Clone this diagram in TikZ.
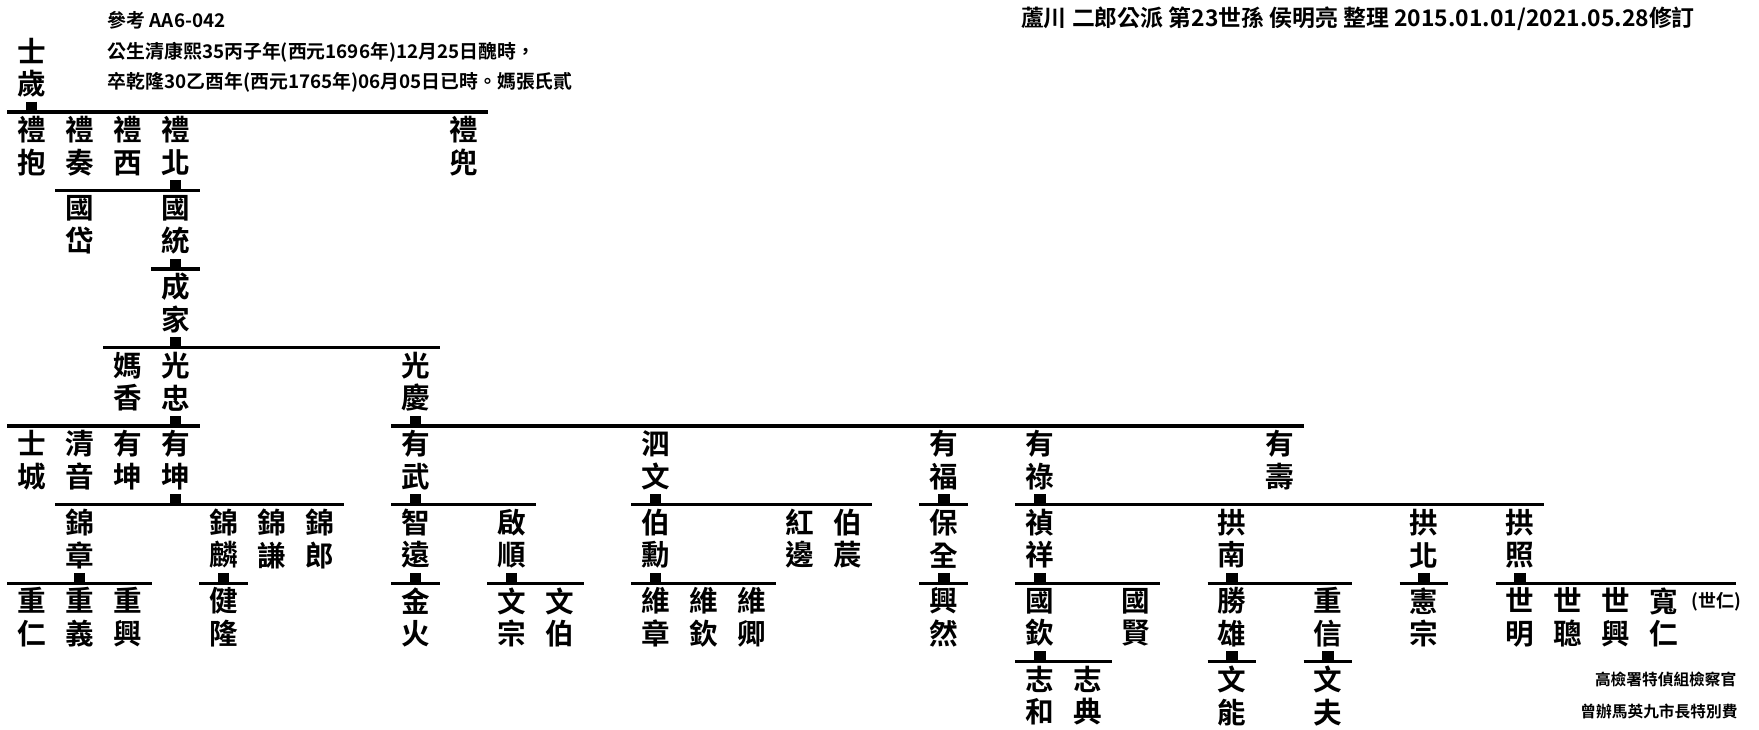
\documentclass[tikz,border=0pt]{standalone}
\usepackage{fontspec}
\setmainfont{Noto Sans CJK TC}[BoldFont={Noto Sans CJK TC Bold}]
\usepackage{tikz}
\tikzset{
    person/.style={rectangle, minimum width=42.8pt, minimum height=60.5pt, inner sep=0pt, align=center, font=\bfseries\fontsize{25.5}{29}\selectfont},
    bar/.style={line width=2.8pt},
    knot/.style={line width=10.4pt},
    heading/.style={anchor=west, inner sep=0pt, font=\bfseries\fontsize{16.8}{20}\selectfont},
    caption/.style={anchor=west, inner sep=0pt, font=\bfseries\fontsize{20.4}{24}\selectfont},
    remark/.style={anchor=east, inner sep=0pt, font=\bfseries\fontsize{14}{17}\selectfont},
    aside/.style={inner sep=0pt, font=\bfseries\fontsize{16}{19}\selectfont}
}

\begin{document}
\begin{tikzpicture}[x=1pt, y=-1pt]
    \path [use as bounding box, fill=white] (0,0) rectangle (1568,650);

    \node [caption] (title) at (910,17) {蘆川 二郎公派 第23世孫 侯明亮 整理 2015.01.01/2021.05.28修訂};
    \node [heading] (ref) at (96,18) {參考 AA6-042};
    \node [heading] (born) at (96,47) {公生清康熙35丙子年(西元1696年)12月25日醜時，};
    \node [heading] (died) at (96,73) {卒乾隆30乙酉年(西元1765年)06月05日已時。媽張氏貳};
    \node [remark] (office) at (1548,606) {高檢署特偵組檢察官};
    \node [remark] (case) at (1549,634) {曾辦馬英九市長特別費};

    \begin{scope}[shift={(28,60.25)}, x=42.8pt, y=-70pt]
    \node [person] (shisui) at (0,0) {士\\歲};

    \node [person] (libao) at (0,1) {禮\\抱};
    \node [person] (lizou) at (1,1) {禮\\奏};
    \node [person] (lixi) at (2,1) {禮\\西};
    \node [person] (libei) at (3,1) {禮\\北};
    \node [person] (lidou) at (9,1) {禮\\兜};

    \node [person] (guodai) at (1,2) {國\\岱};
    \node [person] (guotong) at (3,2) {國\\統};

    \node [person] (chengjia) at (3,3) {成\\家};

    \node [person] (maxiang) at (2,4) {媽\\香};
    \node [person] (guangzhong) at (3,4) {光\\忠};
    \node [person] (guangqing) at (8,4) {光\\慶};

    \node [person] (shicheng) at (0,5) {士\\城};
    \node [person] (qingyin) at (1,5) {清\\音};
    \node [person] (youkunA) at (2,5) {有\\坤};
    \node [person] (youkunB) at (3,5) {有\\坤};
    \node [person] (youwu) at (8,5) {有\\武};
    \node [person] (siwen) at (13,5) {泗\\文};
    \node [person] (youfu) at (19,5) {有\\福};
    \node [person] (youlu) at (21,5) {有\\祿};
    \node [person] (youshou) at (26,5) {有\\壽};

    \node [person] (jinzhang) at (1,6) {錦\\章};
    \node [person] (jinlin) at (4,6) {錦\\麟};
    \node [person] (jinqian) at (5,6) {錦\\謙};
    \node [person] (jinlang) at (6,6) {錦\\郎};
    \node [person] (zhiyuan) at (8,6) {智\\遠};
    \node [person] (qishun) at (10,6) {啟\\順};
    \node [person] (boxun) at (13,6) {伯\\勳};
    \node [person] (hongbian) at (16,6) {紅\\邊};
    \node [person] (bochen) at (17,6) {伯\\莀};
    \node [person] (baoquan) at (19,6) {保\\全};
    \node [person] (zhenxiang) at (21,6) {禎\\祥};
    \node [person] (gongnan) at (25,6) {拱\\南};
    \node [person] (gongbei) at (29,6) {拱\\北};
    \node [person] (gongzhao) at (31,6) {拱\\照};

    \node [person] (chongren) at (0,7) {重\\仁};
    \node [person] (chongyi) at (1,7) {重\\義};
    \node [person] (chongxing) at (2,7) {重\\興};
    \node [person] (jianlong) at (4,7) {健\\隆};
    \node [person] (jinhuo) at (8,7) {金\\火};
    \node [person] (wenzong) at (10,7) {文\\宗};
    \node [person] (wenbo) at (11,7) {文\\伯};
    \node [person] (weizhang) at (13,7) {維\\章};
    \node [person] (weiqin) at (14,7) {維\\欽};
    \node [person] (weiqing) at (15,7) {維\\卿};
    \node [person] (xingran) at (19,7) {興\\然};
    \node [person] (guoqin) at (21,7) {國\\欽};
    \node [person] (guoxian) at (23,7) {國\\賢};
    \node [person] (shengxiong) at (25,7) {勝\\雄};
    \node [person] (chongxin) at (27,7) {重\\信};
    \node [person] (xianzong) at (29,7) {憲\\宗};
    \node [person] (shiming) at (31,7) {世\\明};
    \node [person] (shicong) at (32,7) {世\\聰};
    \node [person] (shixing) at (33,7) {世\\興};
    \node [person] (kuanren) at (34,7) {寬\\仁};
    \node [aside] (shiren) at (35.1,6.8) {(世仁)};
    \coordinate (zhaoEnd) at ([xshift=17pt]shiren.center |- shiming.north);

    \node [person] (zhihe) at (21,8) {志\\和};
    \node [person] (zhidian) at (22,8) {志\\典};
    \node [person] (wenneng) at (25,8) {文\\能};
    \node [person] (wenfu) at (27,8) {文\\夫};

    \draw [bar] (libao.north west) -- (lidou.north east);
    \draw [knot] (shisui.south) -- (shisui.south |- libao.north);
    \draw [bar] (guodai.north west) -- (guotong.north east);
    \draw [knot] (libei.south) -- (libei.south |- guotong.north);
    \draw [bar] (chengjia.north west) -- (chengjia.north east);
    \draw [knot] (guotong.south) -- (guotong.south |- chengjia.north);
    \draw [bar] (maxiang.north west) -- (guangqing.north east);
    \draw [knot] (chengjia.south) -- (chengjia.south |- maxiang.north);
    \draw [bar] (shicheng.north west) -- (youkunB.north east);
    \draw [knot] (guangzhong.south) -- (guangzhong.south |- shicheng.north);
    \draw [bar] (youwu.north west) -- (youshou.north east);
    \draw [knot] (guangqing.south) -- (guangqing.south |- youwu.north);
    \draw [bar] (jinzhang.north west) -- (jinlang.north east);
    \draw [knot] (youkunB.south) -- (youkunB.south |- jinzhang.north);
    \draw [bar] (zhiyuan.north west) -- (qishun.north east);
    \draw [knot] (youwu.south) -- (youwu.south |- zhiyuan.north);
    \draw [bar] (boxun.north west) -- (bochen.north east);
    \draw [knot] (siwen.south) -- (siwen.south |- boxun.north);
    \draw [bar] (baoquan.north west) -- (baoquan.north east);
    \draw [knot] (youfu.south) -- (youfu.south |- baoquan.north);
    \draw [bar] (zhenxiang.north west) -- (gongzhao.north east);
    \draw [knot] (youlu.south) -- (youlu.south |- zhenxiang.north);
    \draw [bar] (chongren.north west) -- (chongxing.north east);
    \draw [knot] (jinzhang.south) -- (jinzhang.south |- chongren.north);
    \draw [bar] (jianlong.north west) -- (jianlong.north east);
    \draw [knot] (jinlin.south) -- (jinlin.south |- jianlong.north);
    \draw [bar] (jinhuo.north west) -- (jinhuo.north east);
    \draw [knot] (zhiyuan.south) -- (zhiyuan.south |- jinhuo.north);
    \draw [bar] (wenzong.north west) -- (wenbo.north east);
    \draw [knot] (qishun.south) -- (qishun.south |- wenzong.north);
    \draw [bar] (weizhang.north west) -- (weiqing.north east);
    \draw [knot] (boxun.south) -- (boxun.south |- weizhang.north);
    \draw [bar] (xingran.north west) -- (xingran.north east);
    \draw [knot] (baoquan.south) -- (baoquan.south |- xingran.north);
    \draw [bar] (guoqin.north west) -- (guoxian.north east);
    \draw [knot] (zhenxiang.south) -- (zhenxiang.south |- guoqin.north);
    \draw [bar] (shengxiong.north west) -- (chongxin.north east);
    \draw [knot] (gongnan.south) -- (gongnan.south |- shengxiong.north);
    \draw [bar] (xianzong.north west) -- (xianzong.north east);
    \draw [knot] (gongbei.south) -- (gongbei.south |- xianzong.north);
    \draw [bar] (shiming.north west) -- (zhaoEnd);
    \draw [knot] (gongzhao.south) -- (gongzhao.south |- shiming.north);
    \draw [bar] (zhihe.north west) -- (zhidian.north east);
    \draw [knot] (guoqin.south) -- (guoqin.south |- zhihe.north);
    \draw [bar] (wenneng.north west) -- (wenneng.north east);
    \draw [knot] (shengxiong.south) -- (shengxiong.south |- wenneng.north);
    \draw [bar] (wenfu.north west) -- (wenfu.north east);
    \draw [knot] (chongxin.south) -- (chongxin.south |- wenfu.north);
    \end{scope}
\end{tikzpicture}
\end{document}
